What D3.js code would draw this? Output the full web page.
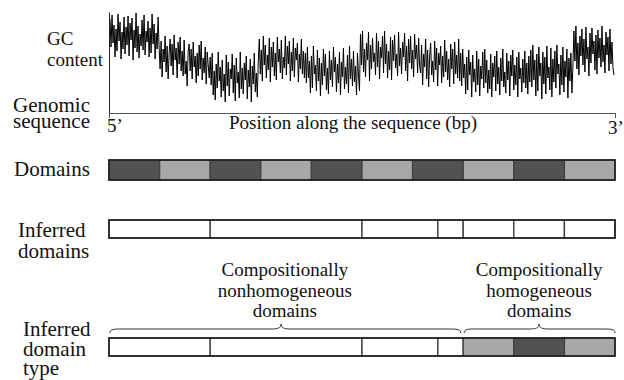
<!DOCTYPE html>
<html>
<head>
<meta charset="utf-8">
<script src="https://cdn.jsdelivr.net/npm/d3@7"></script>
<style>
  html, body { margin: 0; padding: 0; background: #fff; }
  svg { display: block; }
  text { font-family: "Liberation Serif", "Times New Roman", serif; fill: #111; }
</style>
</head>
<body>
<svg id="chart" width="624" height="380"></svg>
<script>
// GC content profile along the sequence (relative units, equally spaced windows)
const gcValues = [
  94, 66, 98, 70, 88, 56, 84, 62, 99, 72, 91, 54, 81, 64, 96, 59, 86, 68, 97, 57,
  90, 73, 95, 53, 83, 65, 100, 61, 87, 55, 79, 67, 93, 63, 98, 58, 82, 71, 92, 56,
  85, 60, 99, 69, 89, 54, 80, 64, 96, 66,
  44, 72, 36, 64, 51, 77, 41, 67, 34, 60, 74, 47, 69, 38, 78, 53, 65, 35, 71, 49,
  76, 42, 62, 37, 73, 39, 52, 27, 62, 69, 42, 64, 34, 71, 46, 57, 30, 60, 37, 68,
  44, 72, 33, 55, 40, 66, 29, 61, 48, 35,
  56, 28, 60, 18, 42, 13, 49, 25, 61, 32, 46, 16, 53, 22, 39, 11, 58, 27, 51, 17,
  44, 34, 59, 20, 48, 12, 55, 30, 41, 15, 61, 24, 45, 19, 50, 33, 57, 14, 43, 26,
  54, 11, 47, 29, 60, 21, 40, 16, 52,
  74, 39, 63, 32, 77, 48, 68, 35, 58, 43, 75, 31, 66, 46, 71, 37, 60, 33, 76, 51,
  64, 40, 73, 34, 56, 45, 77, 38, 67, 49, 72, 32, 61, 42, 75, 36, 65, 53, 70, 31,
  59, 44, 74, 39, 62, 35,
  60, 30, 66, 35, 52, 20, 57, 25, 67, 39, 48, 22, 63, 32, 55, 17, 50, 28, 64, 37,
  59, 23, 45, 19, 62, 33, 53, 26, 66, 41, 56, 21, 49, 30, 61, 18, 51, 36, 65, 24,
  46, 29, 58, 20, 67, 34, 54, 27, 62, 31, 47, 18, 60, 38, 22,
  79, 48, 82, 41, 64, 36, 70, 53, 81, 32, 68, 44, 75, 51, 60, 38, 80, 46, 72, 34,
  66, 55, 77, 40, 82, 49, 69, 35, 62, 43, 76, 33, 73, 52, 78, 45, 59, 37, 81, 47,
  65, 39, 71, 56, 80, 42, 67, 32, 74, 50, 77, 44, 63, 36, 79, 54, 68, 40, 75, 48,
  40, 68, 28, 59, 46, 74, 34, 63, 26, 56, 70, 38, 52, 31, 72, 43, 65, 27, 60, 48,
  67, 30, 57, 36, 73, 41, 62, 33, 54, 26, 69, 44, 64, 29, 71, 39, 58, 35, 74, 32,
  60, 27, 64, 35, 49, 19, 56, 23, 63, 38, 51, 16, 58, 31, 44, 21, 62, 28, 54, 17,
  47, 34, 61, 25, 64, 30, 53, 20, 43, 24, 59, 16, 50, 36, 57, 22, 62, 29, 46, 18,
  55, 32, 64, 26, 41, 20, 60, 33, 52, 17, 58, 37, 63, 23, 48, 28, 56, 16, 61, 34,
  45, 21, 54, 30, 62, 25, 50, 19, 57, 31,
  63, 26, 68, 33, 53, 17, 59, 22, 66, 37, 50, 14, 61, 29, 56, 19, 67, 35, 46, 23,
  65, 16, 54, 31, 62, 25, 68, 39, 49, 18, 58, 28, 66, 21, 52, 36, 64, 15, 55, 32,
  60, 20, 47,
  82, 52, 87, 44, 70, 38, 77, 57, 84, 48, 74, 41, 86, 54, 66, 37, 80, 50, 85, 59,
  72, 43, 78, 39, 83, 55, 75, 46, 87, 51, 68, 40, 81, 58, 76, 42, 84, 49, 71, 45,
  38
];

// True domains: boundaries (sequence units) and GC class of each domain
const domainBounds = [0, 100, 200, 300, 400, 500, 600, 700, 800, 900, 1000];
const domainTypes = ["dark", "light", "dark", "light", "dark", "light", "dark", "light", "dark", "light"];

// Domains inferred by segmentation, and their inferred type
const inferredBounds = [0, 200, 500, 650, 700, 800, 900, 1000];
const inferredTypes = ["none", "none", "none", "none", "light", "dark", "light"];

// Groups of inferred domains marked with braces
const braceGroups = [
  { from: 0, to: 695, peak: 340, lines: ["Compositionally", "nonhomogeneous", "domains"] },
  { from: 700, to: 1000, peak: 850, lines: ["Compositionally", "homogeneous", "domains"] }
];

const rowLabels = [
  { lines: ["GC", "content"], x: 47, y: 45, dy: 21, size: 19 },
  { lines: ["Genomic", "sequence"], x: 13, y: 112, dy: 16, size: 21 },
  { lines: ["Domains"], x: 14, y: 176, dy: 0, size: 21 },
  { lines: ["Inferred", "domains"], x: 18, y: 237, dy: 21, size: 21 },
  { lines: ["Inferred", "domain", "type"], x: 23, y: 336, dy: 19.5, size: 21 }
];

const fills = { dark: "#525252", light: "#a8a8a8", none: "#ffffff" };

const svg = d3.select("#chart");

// Position along the sequence
const seqX = d3.scaleLinear().domain([0, 1000]).range([109, 615]);
// GC content axis
const gcY = d3.scaleLinear().domain([0, 101]).range([113, 12]);
// Window index -> sequence position
const winX = d3.scaleLinear().domain([0, gcValues.length - 1]).range([seqX(2), seqX(998)]);

// GC profile
svg.append("path")
  .datum(gcValues)
  .attr("fill", "none")
  .attr("stroke", "#000")
  .attr("stroke-width", 1)
  .attr("stroke-linejoin", "miter")
  .attr("d", d3.line().x((d, i) => winX(i)).y(d => gcY(d)));

// Axes
const yAxis = svg.append("g")
  .attr("transform", `translate(${seqX(0)},0)`)
  .call(d3.axisLeft(gcY).tickValues([]).tickSizeOuter(0));
yAxis.select(".domain").attr("stroke", "#222");

const xAxis = svg.append("g")
  .attr("transform", `translate(0,${gcY(0)})`)
  .call(d3.axisBottom(seqX).tickValues([0, 1000]).tickFormat("").tickSizeInner(5).tickSizeOuter(0));
xAxis.selectAll(".domain, line").attr("stroke", "#555");

svg.append("text").attr("x", 107).attr("y", 132).attr("font-size", 19).text("5\u2019");
svg.append("text").attr("x", 608).attr("y", 134).attr("font-size", 19).text("3\u2019");
svg.append("text").attr("x", 229).attr("y", 129).attr("font-size", 19)
  .text("Position along the sequence (bp)");

// Segmented bar helper
function drawBar(bounds, types, y0, h) {
  const g = svg.append("g");
  const segs = types.map((t, i) => ({ t, a: bounds[i], b: bounds[i + 1] }));
  g.selectAll("rect.seg").data(segs).join("rect")
    .attr("class", "seg")
    .attr("x", d => seqX(d.a))
    .attr("y", y0)
    .attr("width", d => seqX(d.b) - seqX(d.a))
    .attr("height", h)
    .attr("fill", d => fills[d.t])
    .attr("stroke", "#444")
    .attr("stroke-width", 1.4);
  g.append("rect")
    .attr("x", seqX(bounds[0]))
    .attr("y", y0)
    .attr("width", seqX(bounds[bounds.length - 1]) - seqX(bounds[0]))
    .attr("height", h)
    .attr("fill", "none")
    .attr("stroke", "#1a1a1a")
    .attr("stroke-width", 1.5);
}

drawBar(domainBounds, domainTypes, 160, 20);
drawBar(inferredBounds, inferredTypes.map(() => "none"), 220, 18);
drawBar(inferredBounds, inferredTypes, 338, 18);

// Curly braces above the inferred type bar
function bracePath(x0, x1, xm, yBase) {
  const yFlat = yBase - 4, yPeak = yBase - 9;
  return `M${x0},${yBase} C${x0},${yFlat} ${x0 + 4},${yFlat} ${x0 + 12},${yFlat}` +
    ` L${xm - 10},${yFlat} C${xm - 3},${yFlat} ${xm},${yFlat - 1} ${xm},${yPeak}` +
    ` C${xm},${yFlat - 1} ${xm + 3},${yFlat} ${xm + 10},${yFlat}` +
    ` L${x1 - 12},${yFlat} C${x1 - 4},${yFlat} ${x1},${yFlat} ${x1},${yBase}`;
}

braceGroups.forEach(gp => {
  const x0 = seqX(gp.from) + 1, x1 = seqX(gp.to), xm = seqX(gp.peak);
  svg.append("path")
    .attr("d", bracePath(x0, x1, xm, 333))
    .attr("fill", "none")
    .attr("stroke", "#333")
    .attr("stroke-width", 1);
  const cx = (seqX(gp.from) + seqX(gp.to)) / 2;
  svg.append("text")
    .attr("text-anchor", "middle")
    .attr("font-size", 19)
    .selectAll("tspan").data(gp.lines).join("tspan")
    .attr("x", cx)
    .attr("y", (d, i) => 276 + i * 20.5)
    .text(d => d);
});

// Row labels on the left
rowLabels.forEach(lb => {
  svg.append("text")
    .attr("font-size", lb.size)
    .selectAll("tspan").data(lb.lines).join("tspan")
    .attr("x", lb.x)
    .attr("y", (d, i) => lb.y + i * lb.dy)
    .text(d => d);
});
</script>
</body>
</html>
